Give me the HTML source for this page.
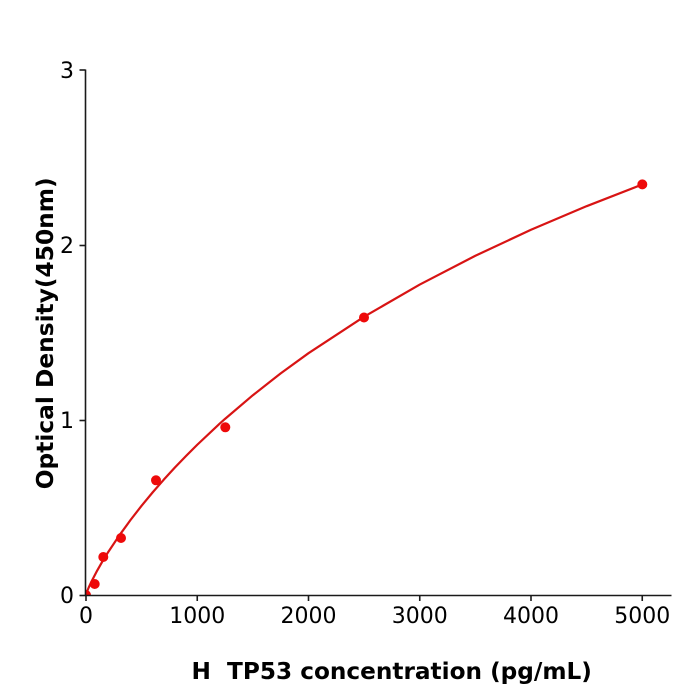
<!DOCTYPE html>
<html>
<head>
<meta charset="utf-8">
<style>
  html, body { margin: 0; padding: 0; background: #ffffff; }
  svg { display: block; }
  text { font-family: "DejaVu Sans", "Liberation Sans", sans-serif; fill: #000; }
</style>
</head>
<body>
<svg width="700" height="700" viewBox="0 0 700 700" xmlns="http://www.w3.org/2000/svg">
  <rect x="0" y="0" width="700" height="700" fill="#ffffff"/>
  <defs>
    <clipPath id="plot">
      <rect x="86" y="60" width="590" height="535"/>
    </clipPath>
  </defs>

  <!-- fitted curve -->
  <polyline clip-path="url(#plot)" fill="none" stroke="#d81414" stroke-width="2.2" stroke-linejoin="round"
    points="86,595 87.11,591.48 88.78,587.38 91.56,581.35 97.13,570.66 102.69,560.98 108.25,551.97 119.38,535.31 130.5,520.01 141.63,505.7 152.75,492.26 163.88,479.54 175,467.41 186.13,455.84 197.25,444.75 219.5,423.85 225.06,418.86 252.88,395.22 280.69,373.36 308.5,353.2 364.13,316.66 419.75,284.55 475.38,255.76 531,229.78 586.63,206.17 642.25,184.45"/>

  <!-- data points -->
  <g fill="#ee0a0a" clip-path="url(#plot)">
    <circle cx="86" cy="595" r="5"/>
    <circle cx="94.7" cy="584" r="5"/>
    <circle cx="103.3" cy="557" r="5"/>
    <circle cx="121" cy="538" r="5"/>
    <circle cx="156" cy="480.3" r="5"/>
    <circle cx="225.3" cy="427.3" r="5"/>
    <circle cx="364" cy="317.5" r="5"/>
    <circle cx="642.3" cy="184.4" r="5"/>
  </g>

  <!-- axes -->
  <g stroke="#1a1a1a" stroke-width="1.6" fill="none">
    <line x1="85.5" y1="69.5" x2="85.5" y2="595.5"/>
    <line x1="85" y1="595.5" x2="671.5" y2="595.5"/>
    <!-- y ticks -->
    <line x1="79.5" y1="595.5" x2="85.5" y2="595.5"/>
    <line x1="79.5" y1="420.5" x2="85.5" y2="420.5"/>
    <line x1="79.5" y1="245.5" x2="85.5" y2="245.5"/>
    <line x1="79.5" y1="70" x2="85.5" y2="70"/>
    <!-- x ticks -->
    <line x1="86" y1="595.5" x2="86" y2="601"/>
    <line x1="197.25" y1="595.5" x2="197.25" y2="601"/>
    <line x1="308.5" y1="595.5" x2="308.5" y2="601"/>
    <line x1="419.75" y1="595.5" x2="419.75" y2="601"/>
    <line x1="531" y1="595.5" x2="531" y2="601"/>
    <line x1="642.25" y1="595.5" x2="642.25" y2="601"/>
  </g>

  <!-- y tick labels -->
  <g font-size="22" text-anchor="end">
    <text x="74" y="603">0</text>
    <text x="74" y="428">1</text>
    <text x="74" y="253">2</text>
    <text x="74" y="78">3</text>
  </g>

  <!-- x tick labels -->
  <g font-size="22" text-anchor="middle">
    <text x="86" y="623">0</text>
    <text x="197.25" y="623">1000</text>
    <text x="308.5" y="623">2000</text>
    <text x="419.75" y="623">3000</text>
    <text x="531" y="623">4000</text>
    <text x="642.25" y="623">5000</text>
  </g>

  <!-- axis labels -->
  <text x="391.7" y="679" font-size="23.2" font-weight="bold" text-anchor="middle" xml:space="preserve">H  TP53 concentration (pg/mL)</text>
  <text x="0" y="0" font-size="23.3" font-weight="bold" text-anchor="middle" transform="translate(53,333.3) rotate(-90)">Optical Density(450nm)</text>
</svg>
</body>
</html>
